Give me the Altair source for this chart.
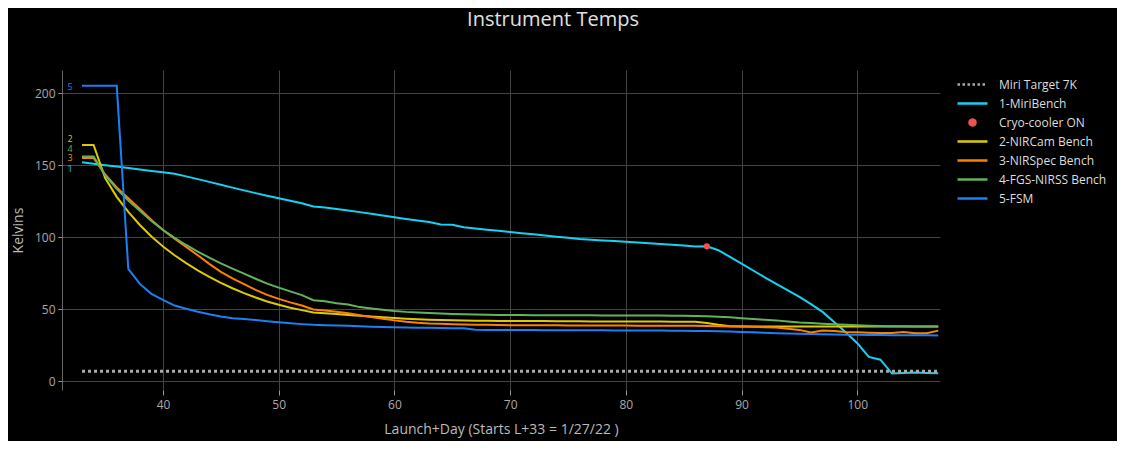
import altair as alt
import pandas as pd

days = list(range(33, 108))

miri_bench = [152, 151, 150, 149, 148, 147, 146, 145, 144, 142.2, 140.3, 138.4, 136.4, 134.4, 132.5,
              130.6, 128.7, 127, 125.3, 123.6, 121.3, 120.6, 119.6, 118.6, 117.4, 116.2, 115, 113.8,
              112.7, 111.6, 110.5, 108.8, 108.6, 106.9, 106, 105.2, 104.4, 103.6, 102.8, 102, 101.2,
              100.4, 99.6, 98.8, 98.3, 97.8, 97.3, 96.8, 96.3, 95.8, 95.3, 94.8, 94.2, 93.6, 93.7,
              91, 86.3, 81.6, 76.9, 72.2, 67.6, 63.1, 58.6, 53.6, 48.2, 41.2, 34, 26.5, 17, 15,
              5.4, 5.8, 6.1, 5.8, 5.6]

nircam = [164, 164, 141, 128, 117.5, 108.5, 100.5, 93.5, 87.5, 82, 77, 72.5, 68.3, 64.6, 61.2,
          58.2, 55.4, 53.1, 51.1, 49.4, 47.8, 47.3, 46.7, 46.1, 45.5, 45, 44.4, 43.9, 43.5, 43.1,
          42.8, 42.6, 42.4, 42.2, 42.1, 42, 41.9, 41.9, 41.8, 41.8, 41.8, 41.7, 41.7, 41.7, 41.6,
          41.6, 41.6, 41.5, 41.5, 41.5, 41.5, 41.4, 41.4, 41.4, 40.5, 39.3, 38.3, 38.2, 38.1, 38.1,
          38.1, 38, 38, 38, 38, 38, 38, 38, 38, 38, 38, 38, 38, 38, 38]

nirspec = [155, 155, 143.5, 134.5, 127, 119.5, 112, 105, 99, 93.3, 87.5, 81.5, 76, 71.5, 67.5,
           63.5, 60, 57.2, 54.8, 52.6, 49.8, 49.2, 48.3, 47.3, 45.9, 44.6, 43.4, 42.3, 41.4, 40.7,
           40.2, 39.9, 39.7, 39.5, 39.3, 39.2, 39.1, 39, 39, 38.9, 38.9, 38.9, 38.8, 38.8, 38.8,
           38.7, 38.7, 38.7, 38.6, 38.6, 38.6, 38.5, 38.5, 38.5, 38.4, 38.2, 38, 37.9, 37.8, 37.6,
           37.3, 36.5, 35.7, 33.9, 35.2, 34.9, 34.3, 34.1, 33.8, 33.5, 33.6, 34.3, 33.4, 33.4, 35.2]

fgs_nirss = [156, 156, 143, 133.5, 125.5, 118.3, 111.3, 105, 99.5, 94.6, 90, 85.8, 81.9, 78.2, 74.7,
             71.2, 67.8, 65, 62.4, 59.8, 56.3, 55.5, 54.2, 53.3, 51.5, 50.5, 49.6, 48.8, 48.2, 47.8,
             47.4, 47.1, 46.8, 46.6, 46.4, 46.2, 46.1, 46, 46, 45.9, 45.9, 45.9, 45.8, 45.8, 45.8,
             45.7, 45.7, 45.7, 45.6, 45.6, 45.6, 45.5, 45.5, 45.4, 45.2, 44.9, 44.4, 43.8, 43.2, 42.7,
             42.3, 41.6, 40.9, 40.4, 40, 39.6, 39.2, 38.9, 38.6, 38.4, 38.3, 38.2, 38.1, 38, 38]

fsm = [205, 205, 205, 205, 78, 67.6, 60.7, 56.5, 52.6, 50.4, 48.3, 46.5, 45, 43.8, 43.2,
       42.5, 41.7, 41, 40.3, 39.7, 39.2, 39, 38.8, 38.6, 38.2, 37.9, 37.7, 37.5, 37.3, 37.2,
       37.1, 37, 36.9, 36.8, 35.8, 35.7, 35.7, 35.6, 35.6, 35.6, 35.5, 35.5, 35.5, 35.4, 35.4,
       35.4, 35.3, 35.3, 35.3, 35.2, 35.2, 35.1, 35.1, 35, 34.9, 34.7, 34.5, 34.3, 34, 33.7,
       33.4, 33.2, 33, 32.8, 32.6, 32.5, 32.4, 32.3, 32.2, 32.1, 32, 32, 31.9, 31.9, 31.8]

target_days = [33, 107]
target_temp = [7, 7]

cryo_day = [87]
cryo_temp = [93.7]

series_names = ["Miri Target 7K", "1-MiriBench", "Cryo-cooler ON", "2-NIRCam Bench",
                "3-NIRSpec Bench", "4-FGS-NIRSS Bench", "5-FSM"]
series_colors = ["#aaaaaa", "#14d2f2", "#ef5350", "#dccb00", "#ff8000", "#62b35a", "#1a80f5"]

tag_text = ["5", "2", "4", "3", "1"]
tag_colors = ["#1a80f5", "#dccb00", "#62b35a", "#ff8000", "#14d2f2"]
tag_day = [31.97, 31.97, 31.97, 31.97, 31.97]
tag_temp = [204.3, 168.2, 161.3, 155.1, 147.5]

# ---- tables
line_series = [("1-MiriBench", miri_bench), ("2-NIRCam Bench", nircam),
               ("3-NIRSpec Bench", nirspec), ("4-FGS-NIRSS Bench", fgs_nirss), ("5-FSM", fsm)]
rows = []
for name, vals in line_series:
    for d, v in zip(days, vals):
        rows.append({"day": d, "temp": v, "series": name})
lines_df = pd.DataFrame(rows)
target_df = pd.DataFrame({"day": target_days, "temp": target_temp, "series": "Miri Target 7K"})
cryo_df = pd.DataFrame({"day": cryo_day, "temp": cryo_temp, "series": "Cryo-cooler ON"})
tags_df = pd.DataFrame({"day": tag_day, "temp": tag_temp, "tag": tag_text, "c": tag_colors})

FONT = "Open Sans"

x_enc = alt.X("day:Q",
              scale=alt.Scale(domain=[31.27, 107.15], nice=False, zero=False),
              axis=alt.Axis(values=[40, 50, 60, 70, 80, 90, 100],
                            title="Launch+Day (Starts L+33 = 1/27/22 )",
                            grid=True, gridColor="#444444", domain=False,
                            ticks=True, tickColor="#999999", tickSize=5,
                            labelColor="#aaaaaa", labelFontSize=12, labelFont=FONT,
                            labelPadding=4,
                            titleColor="#bbbbbb", titleFontSize=14, titleFont=FONT,
                            titleFontWeight="normal", titlePadding=12))
y_enc = alt.Y("temp:Q",
              scale=alt.Scale(domain=[-6, 216], nice=False, zero=False),
              axis=alt.Axis(values=[0, 50, 100, 150, 200], title="Kelvins",
                            grid=True, gridColor="#444444", domain=True, domainColor="#666666",
                            ticks=True, tickColor="#999999", tickSize=4,
                            labelColor="#aaaaaa", labelFontSize=12, labelFont=FONT,
                            labelPadding=3,
                            titleColor="#bbbbbb", titleFontSize=14, titleFont=FONT,
                            titleFontWeight="normal", titlePadding=9))

legend = alt.Legend(
    title=None, orient="none", legendX=894, legendY=6, padding=0,
    labelColor="#dddddd", labelFontSize=12, labelFont=FONT, labelOffset=10,
    symbolSize=900, symbolStrokeWidth=2.5, clipHeight=17, rowPadding=2,
    symbolType={"expr": "datum.label == 'Cryo-cooler ON' ? 'M-0.2,0A0.2,0.2 0 1,0 0.2,0A0.2,0.2 0 1,0 -0.2,0Z' : 'stroke'"},
    symbolDash={"expr": "datum.label == 'Miri Target 7K' ? [2.5, 2.5] : [1, 0]"},
    symbolFillColor={"expr": "datum.label == 'Cryo-cooler ON' ? '#ef5350' : 'transparent'"},
)
color_enc = alt.Color("series:N", scale=alt.Scale(domain=series_names, range=series_colors),
                      legend=legend)

lines = alt.Chart(lines_df).mark_line(strokeWidth=2).encode(x=x_enc, y=y_enc, color=color_enc)
target = alt.Chart(target_df).mark_line(strokeWidth=3, strokeDash=[3, 3]).encode(
    x=x_enc, y=y_enc, color=color_enc)
cryo = alt.Chart(cryo_df).mark_point(filled=True, size=40, opacity=1, shape="circle").encode(
    x=x_enc, y=y_enc, color=color_enc)
tags = alt.Chart(tags_df).mark_text(fontSize=9, font=FONT, align="center", baseline="middle").encode(
    x=x_enc, y=y_enc, text="tag:N", color=alt.Color("c:N", scale=None))

chart = alt.layer(lines, target, cryo, tags).properties(
    width=878, height=320,
    autosize=alt.AutoSizeParams(type="none"),
    padding={"left": 54, "top": 62, "right": 177, "bottom": 51},
    background="#000000",
    title=alt.TitleParams("Instrument Temps", fontSize=20, color="#e0e0e0", font=FONT,
                          fontWeight="normal", anchor="middle", dx=52, offset=40),
).configure_view(stroke=None)

chart.save("out.html", embed_options={"renderer": "svg", "actions": False})
